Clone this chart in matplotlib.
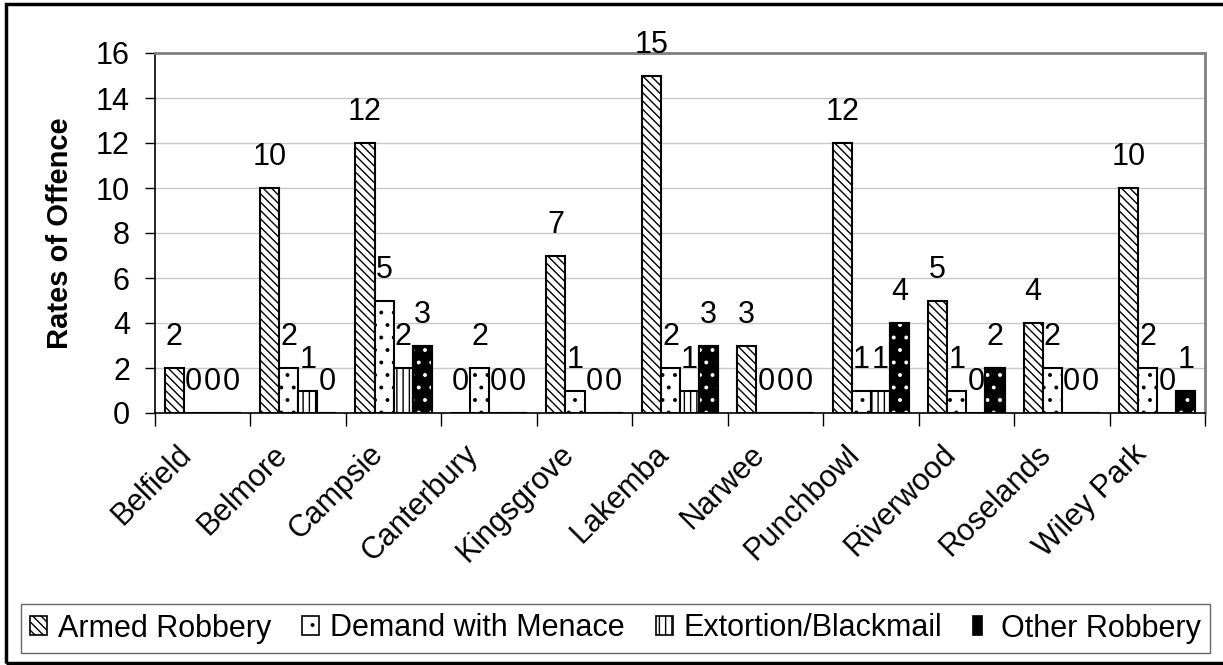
import matplotlib
matplotlib.use("Agg")
import matplotlib.pyplot as plt
import numpy as np
from functools import lru_cache
import matplotlib.hatch as mhatch
import matplotlib.transforms as mtransforms
from matplotlib.path import Path
from matplotlib.patches import Patch, Rectangle
from matplotlib.legend_handler import HandlerTuple

categories = ["Belfield", "Belmore", "Campsie", "Canterbury", "Kingsgrove", "Lakemba",
              "Narwee", "Punchbowl", "Riverwood", "Roselands", "Wiley Park"]
armed_robbery = [2, 10, 12, 0, 7, 15, 3, 12, 5, 4, 10]
demand_with_menace = [0, 2, 5, 2, 1, 2, 0, 1, 1, 2, 2]
extortion_blackmail = [0, 1, 2, 0, 0, 1, 0, 1, 0, 0, 0]
other_robbery = [0, 0, 3, 0, 0, 3, 0, 4, 2, 0, 1]
series_names = ["Armed Robbery", "Demand with Menace", "Extortion/Blackmail", "Other Robbery"]
y_ticks = [0, 2, 4, 6, 8, 10, 12, 14, 16]


# denser hatch patterns (closer to the reference)
@lru_cache(16)
def _hatch(hatchpattern, density=6):
    return mhatch.get_path(hatchpattern, 8)


Path.hatch = staticmethod(_hatch)

plt.rcParams['font.family'] = ['Liberation Sans', 'DejaVu Sans']
plt.rcParams['hatch.linewidth'] = 1.0

W, H = 1223, 665
fig = plt.figure(figsize=(W / 100, H / 100), dpi=100)
ax = fig.add_axes([155 / W, 1 - 413 / H, (1205 - 155) / W, (413 - 53) / H])

x = np.arange(len(categories))
w = 0.2
series = [armed_robbery, demand_with_menace, extortion_blackmail, other_robbery]
offsets = [-1.5 * w, -0.5 * w, 0.5 * w, 1.5 * w]
hatches = ['\\\\\\', '.', '||', None]
faces = ['white', 'white', 'white', 'black']

FS = 22
for i, (vals, off) in enumerate(zip(series, offsets)):
    xs = x + off
    ax.bar(xs, vals, width=w, facecolor=faces[i], edgecolor='black',
           hatch=hatches[i], linewidth=1.5, zorder=3)
    if i == 3:
        ax.bar(xs, vals, width=w, fill=False, edgecolor='white', hatch='.',
               linewidth=0, zorder=4)
        ax.bar(xs, vals, width=w, fill=False, edgecolor='black', linewidth=1.5, zorder=5)
    for xv, v in zip(xs, vals):
        ax.annotate(str(v), (xv, v), xytext=(0, 16.5), textcoords='offset points',
                    ha='center', va='baseline', fontsize=FS, zorder=6)

ax.set_xlim(-0.5, len(categories) - 0.5)
ax.set_ylim(0, 16)
ax.set_yticks(y_ticks)
ax.set_yticklabels([str(t) for t in y_ticks], fontsize=FS)
ax.tick_params(axis='y', length=7, width=1, pad=11, direction='out')
ax.yaxis.grid(True, color='#c8c8c8', linewidth=1, zorder=0)
ax.set_axisbelow(True)

ax.set_xticks(x)
ax.set_xticklabels(categories, rotation=45, ha='right', va='top',
                   rotation_mode='anchor', fontsize=FS)
ax.tick_params(axis='x', which='major', length=0, pad=19)
shift = mtransforms.ScaledTranslation(-26 / 100, 0, fig.dpi_scale_trans)
for lab in ax.get_xticklabels():
    lab.set_transform(lab.get_transform() + shift)
ax.set_xticks(np.arange(len(categories) + 1) - 0.5, minor=True)
ax.tick_params(axis='x', which='minor', length=9, width=1, direction='out')

ax.set_ylabel("Rates of Offence", fontsize=21, fontweight='bold', labelpad=16)

for s in ['top', 'right']:
    ax.spines[s].set_color('#808080')
    ax.spines[s].set_linewidth(2)
for s in ['left', 'bottom']:
    ax.spines[s].set_color('black')
    ax.spines[s].set_linewidth(1.2)

handles = [
    Patch(facecolor='white', edgecolor='black', hatch='\\\\\\', linewidth=1.2),
    Patch(facecolor='white', edgecolor='black', hatch='.', linewidth=1.2),
    Patch(facecolor='white', edgecolor='black', hatch='||', linewidth=1.2),
    (Patch(facecolor='black', edgecolor='black', linewidth=1.2),
     Patch(fill=False, edgecolor='white', hatch='.', linewidth=0)),
]
leg = fig.legend(handles, series_names, ncol=4, loc='center',
                 bbox_to_anchor=(21 / W, 1 - 654 / H, (1210 - 21) / W, 51 / H),
                 mode='expand', fontsize=22, frameon=True, fancybox=False,
                 edgecolor='#404040', handlelength=0.55, handleheight=0.55,
                 handletextpad=0.35, borderaxespad=0, borderpad=0.3,
                 columnspacing=0.3,
                 handler_map={tuple: HandlerTuple(ndivide=None, pad=0)})
leg.get_frame().set_linewidth(1)

fig.patches.append(Rectangle((6 / W, 2 / H), 1.1, (661 - 2) / H,
                             transform=fig.transFigure, fill=False,
                             edgecolor='black', linewidth=2.5))

fig.savefig("out.png", dpi=100)
